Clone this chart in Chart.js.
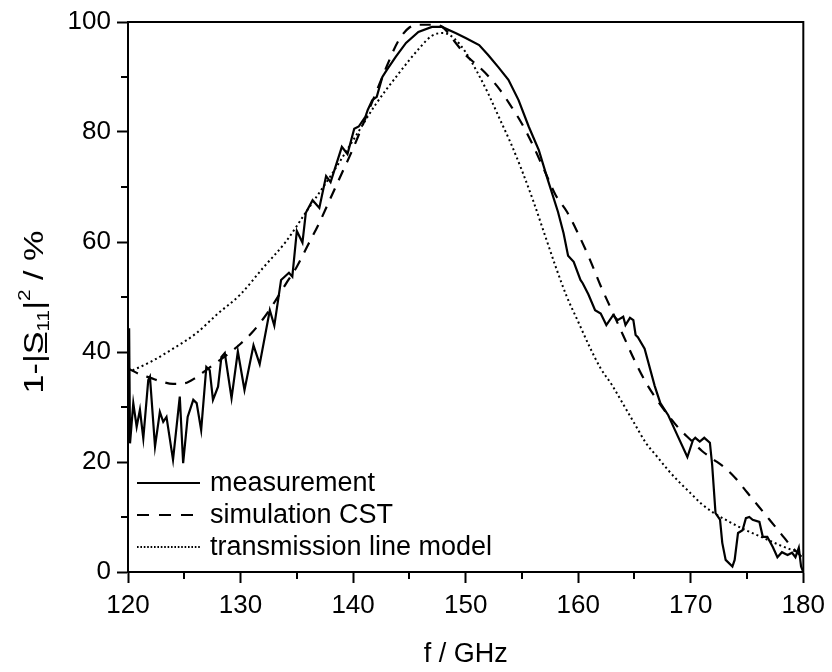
<!DOCTYPE html>
<html>
<head>
<meta charset="utf-8">
<script src="https://cdn.jsdelivr.net/npm/chart.js@4.4.1/dist/chart.umd.min.js"></script>
<style>
  html, body { margin: 0; padding: 0; background: #ffffff; }
  #c { display: block; }
</style>
</head>
<body>
<canvas id="c" width="832" height="672"></canvas>
<script>
// ---------- data ----------
const measFreq = [120.0,120.1,120.18,120.47,120.77,121.06,121.36,121.8,121.95,122.4,122.83,123.13,123.42,124.0,124.6,124.9,125.3,125.8,126.1,126.5,126.96,127.26,127.55,128.0,128.3,128.6,129.2,129.76,130.35,131.15,131.7,132.6,133.0,133.6,134.3,134.6,135.0,135.5,135.8,136.4,137.0,137.6,138.0,139.0,139.5,140.1,140.5,141.1,141.3,141.7,142.1,142.6,143.0,143.8,144.7,145.8,147.0,147.9,149.1,150.0,151.2,152.0,152.9,153.8,154.7,155.6,156.5,157.3,158.2,158.7,159.1,159.6,160.2,160.4,160.9,161.5,162.0,162.5,163.1,163.5,164.0,164.2,164.6,164.9,165.1,165.3,165.9,166.8,167.3,168.0,168.6,169.7,170.2,170.4,170.8,171.2,171.7,171.9,172.2,172.6,172.8,173.1,173.7,173.9,174.2,174.6,174.9,175.2,175.5,176.1,176.4,176.8,177.3,177.7,178.1,178.6,179.0,179.3,179.6,179.8,180.0];
const measVal = [36,44.3,23.4,30.7,26.4,29.5,24.3,34.9,35.5,22.8,29.1,27.3,28.2,20.4,31.9,19.8,28.2,31.3,30.7,25.8,37.3,36.7,31.3,33.7,39.1,39.8,31.6,40.1,33.1,41.2,37.8,47.6,44.8,53.1,54.4,53.7,62.0,59.9,65.3,67.6,66.2,72.0,70.9,77.3,76.0,80.6,81.0,82.8,84.0,85.8,86.4,90.0,91.3,93.7,96.2,98.2,99.1,99.1,98.0,97.1,95.8,94.0,91.8,89.5,85.8,81.0,76.7,71.3,65.5,61.6,57.5,56.4,53.1,52.5,50.5,47.6,47.0,44.9,46.7,45.8,46.4,44.9,46.2,45.8,43.1,42.7,40.6,33.8,30.7,28.5,25.8,20.9,24.0,24.4,23.7,24.4,23.5,19.5,10.7,9.5,5.3,2.2,1.0,2.2,7.1,7.6,9.8,10.0,9.5,9.1,6.4,6.4,4.5,2.7,3.6,3.1,3.5,2.7,4.4,1.0,0];

const simFreq = [120,121,122,123,124,125,126,127,128,129,130,131,132,133,134,135,136,137,138,139,140,141,142,143,144,145,146,147,148,149,150,151,152,153,154,155,156,157,158,159,160,161,162,163,164,165,166,167,168,169,170,171,172,173,174,175,176,177,178,179,180];
const simVal = [37,36,35.3,34.6,34.2,34.3,35.3,36.8,38.3,39.8,41.5,43.5,46,49,52.3,55.5,59.5,63.5,68,72.5,77,82,87,92,96.5,99,99.5,99.5,99,96.5,94,92.2,90.2,87.8,84.8,81.5,77.5,73,68.5,65.5,61.5,57,52,47.5,43,38.5,34.5,31.3,28.5,26,24,22,20.5,19,17,14.5,12,9.5,7,4.5,2.5];

const tlmFreq = [120,122,124,126,128,130,132,134,136,138,140,142,144,146,147,148,149,150,151,152,153,154,155,156,157,158,159,160,161,162,163,164,165,166,167,168,169,170,171,172,173,174,175,176,177,178,179,180];
const tlmVal = [36.3,38.2,40.6,43.3,47.0,50.5,55.3,60.0,66.0,72.0,78.5,85.0,90.5,95.5,97.5,98.0,97.0,94.5,91.0,87.0,82.5,78.0,73.0,67.5,61.5,55.5,50.0,45.5,41.0,37.0,34.0,30.5,27.0,23.5,21.0,18.5,16.3,14.3,12.3,10.8,9.6,8.5,7.5,6.6,5.7,4.8,4.0,3.3];

const seriesNames = ['measurement', 'simulation CST', 'transmission line model'];
const xMajorTicks = [120,130,140,150,160,170,180];
const xMinorTicks = [125,135,145,155,165,175];
const yMajorTicks = [0,20,40,60,80,100];
const yMinorTicks = [10,30,50,70,90];

const toXY = (fs, vs) => fs.map((f, i) => ({ x: f, y: vs[i] }));

const FONT = '"Liberation Sans", Arial, Helvetica, sans-serif';

// ---------- plugin: frame, minor ticks, legend, axis titles ----------
const decor = {
  id: 'decor',
  afterDraw(chart) {
    const ctx = chart.ctx;
    const a = chart.chartArea;
    const xs = chart.scales.x, ys = chart.scales.y;
    ctx.save();
    // frame
    ctx.strokeStyle = '#000';
    ctx.lineWidth = 2;
    ctx.strokeRect(a.left, a.top, a.right - a.left, a.bottom - a.top);
    // minor ticks
    ctx.beginPath();
    xMinorTicks.forEach(v => {
      const px = Math.round(xs.getPixelForValue(v));
      ctx.moveTo(px, a.bottom); ctx.lineTo(px, a.bottom + 7);
    });
    yMinorTicks.forEach(v => {
      const py = Math.round(ys.getPixelForValue(v));
      ctx.moveTo(a.left, py); ctx.lineTo(a.left - 7, py);
    });
    ctx.stroke();

    // legend (inside plot, lower left)
    const lx0 = a.left + 9, lx1 = a.left + 72, tx = a.left + 82;
    const ly0 = 483, dy = 32;
    ctx.font = '27px ' + FONT;
    ctx.textAlign = 'left';
    ctx.textBaseline = 'middle';
    chart.data.datasets.forEach((ds, i) => {
      const y = ly0 + i * dy;
      ctx.beginPath();
      ctx.lineWidth = ds.borderWidth;
      ctx.setLineDash(i === 2 ? [1.6, 1.8] : (i === 1 ? [12, 10] : []));
      ctx.moveTo(lx0, y); ctx.lineTo(lx1, y);
      ctx.stroke();
      ctx.setLineDash([]);
      ctx.fillStyle = '#000';
      ctx.fillText(ds.label, tx, y + 1);
    });

    // x title
    ctx.fillStyle = '#000';
    ctx.textAlign = 'center';
    ctx.textBaseline = 'middle';
    ctx.font = '27px ' + FONT;
    ctx.fillText('f / GHz', (a.left + a.right) / 2, 655);

    // y title: 1-|S11|^2 / %  (S underlined, 11 subscript, 2 superscript)
    const big = '28px ' + FONT, small = '17px ' + FONT;
    const parts = [
      { t: '1-|', f: big, dy: 0 },
      { t: 'S', f: big, dy: 0, u: true },
      { t: '11', f: small, dy: 6 },
      { t: '|', f: big, dy: 0 },
      { t: '2', f: small, dy: -13 },
      { t: ' / %', f: big, dy: 0 }
    ];
    let total = 0;
    parts.forEach(p => { ctx.font = p.f; p.w = ctx.measureText(p.t).width; total += p.w; });
    const stretch = 163 / total;
    ctx.translate(43, 312);
    ctx.rotate(-Math.PI / 2);
    ctx.scale(stretch, 1);
    ctx.textAlign = 'left';
    ctx.textBaseline = 'alphabetic';
    let cx = -total / 2;
    parts.forEach(p => {
      ctx.font = p.f;
      ctx.fillText(p.t, cx, p.dy);
      if (p.u) {
        ctx.fillRect(cx + 1, 2, p.w - 2, 2);
      }
      cx += p.w;
    });
    ctx.restore();
  }
};

new Chart(document.getElementById('c'), {
  type: 'line',
  data: {
    datasets: [
      { label: seriesNames[0], data: toXY(measFreq, measVal), borderColor: '#000', borderWidth: 2.2, pointRadius: 0, tension: 0, fill: false },
      { label: seriesNames[1], data: toXY(simFreq, simVal), borderColor: '#000', borderWidth: 2.2, borderDash: [11, 9], pointRadius: 0, cubicInterpolationMode: 'monotone', fill: false },
      { label: seriesNames[2], data: toXY(tlmFreq, tlmVal), borderColor: '#000', borderWidth: 2, borderDash: [2, 3], pointRadius: 0, cubicInterpolationMode: 'monotone', fill: false }
    ]
  },
  options: {
    responsive: false,
    animation: false,
    devicePixelRatio: 1,
    layout: { padding: { top: 22, right: 26, left: 0, bottom: 0 } },
    plugins: { legend: { display: false }, tooltip: { enabled: false }, title: { display: false } },
    scales: {
      x: {
        type: 'linear', min: 120, max: 180,
        afterFit(s) { s.height = 100; },
        afterBuildTicks(s) { s.ticks = xMajorTicks.map(v => ({ value: v })); },
        ticks: { color: '#000', font: { family: FONT, size: 26 }, padding: 7, maxRotation: 0, autoSkip: false },
        grid: { drawOnChartArea: false, drawTicks: true, tickLength: 11, tickWidth: 2, tickColor: '#000' },
        border: { display: true, color: '#000', width: 2 }
      },
      y: {
        type: 'linear', min: 0, max: 100,
        afterFit(s) { s.width = 128; },
        afterBuildTicks(s) { s.ticks = yMajorTicks.map(v => ({ value: v })); },
        ticks: { color: '#000', font: { family: FONT, size: 26 }, padding: 6, autoSkip: false },
        grid: { drawOnChartArea: false, drawTicks: true, tickLength: 11, tickWidth: 2, tickColor: '#000' },
        border: { display: true, color: '#000', width: 2 }
      }
    }
  },
  plugins: [decor]
});
</script>
</body>
</html>
